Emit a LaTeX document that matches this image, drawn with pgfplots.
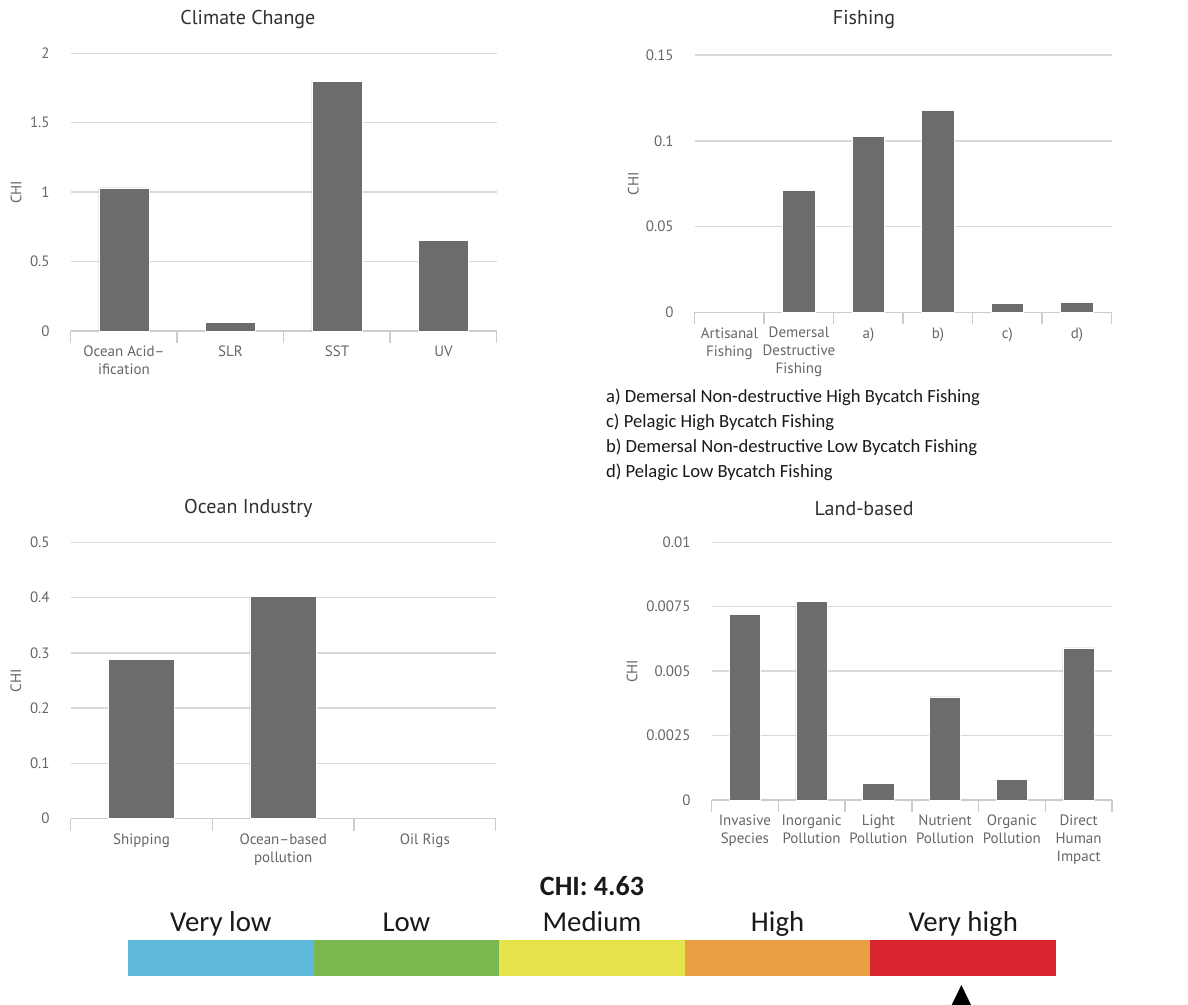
\documentclass[border=0pt]{standalone}
\usepackage{pgfplots}
\pgfplotsset{compat=1.18}
\usepackage{fontspec}
\setmainfont{PT Sans}
\newfontfamily\calib{Carlito}
\definecolor{barc}{HTML}{6B6C6E}
\definecolor{gridc}{HTML}{D9D9D9}
\definecolor{axc}{HTML}{CCCCCC}
\definecolor{tickc}{HTML}{666666}
\definecolor{titc}{HTML}{303030}
\definecolor{cvl}{HTML}{5EB9DA}
\definecolor{clo}{HTML}{7BB84F}
\definecolor{cme}{HTML}{E5E24B}
\definecolor{chi}{HTML}{EA9E43}
\definecolor{cvh}{HTML}{D9252F}
\pgfplotsset{
  chi/.style={
    scale only axis, anchor=south west,
    ybar, bar width=0.47,
    enlargelimits=false, ymin=0,
    scaled y ticks=false,
    axis lines*=left,
    y axis line style={draw=none},
    x axis line style={draw=axc, line width=0.75pt},
    tick align=outside,
    major tick length=0pt,
    minor tick length=6pt,
    tick style={draw=axc, line width=0.75pt},
    ymajorgrids,
    major grid style={draw=gridc, line width=0.75pt},
    xticklabel style={font=\fontsize{7.5}{9}\selectfont, text=tickc, align=center, yshift=-4pt},
    yticklabel style={font=\fontsize{7.5}{9}\selectfont, text=tickc, xshift=-7pt},
    ylabel={CHI},
    every axis y label/.style={rotate=90, anchor=center, font=\fontsize{7.5}{9}\selectfont, text=tickc},
    every axis title/.style={anchor=center, font=\fontsize{10}{12}\selectfont, text=titc},
  }
}
\begin{document}
\begin{tikzpicture}
\path[use as bounding box] (0pt,0pt) rectangle (594pt,-502.5pt);

% Climate Change
\begin{axis}[chi, at={(35.35pt,-165.5pt)}, width=213pt, height=138.85pt,
  xmin=-0.5, xmax=3.5, ymax=2,
  ytick={0,0.5,1,1.5,2}, yticklabels={0,0.5,1,1.5,2},
  xtick={0,1,2,3}, xticklabels={{Ocean Acid\textendash\\ification},SLR,SST,UV},
  minor xtick={-0.5,0.5,1.5,2.5,3.5},
  title={Climate Change}, title style={at={(axis description cs:0.416,1.12)}},
  ylabel style={at={(axis description cs:-0.128,0.5)}}]
\addplot[fill=barc, draw=white, line width=0.4pt] coordinates {(0,1.03) (1,0.06) (2,1.80) (3,0.65)};
\end{axis}

% Fishing
\begin{axis}[chi, at={(347.35pt,-156.15pt)}, width=208.5pt, height=128.65pt,
  xmin=-0.5, xmax=5.5, ymax=0.15,
  ytick={0,0.05,0.1,0.15}, yticklabels={0,0.05,0.1,0.15},
  xtick={0,1,2,3,4,5}, xticklabels={{Artisanal\\Fishing},{Demersal\\Destructive\\Fishing},a),b),c),d)},
  minor xtick={-0.5,0.5,1.5,2.5,3.5,4.5,5.5},
  title={Fishing}, title style={at={(axis description cs:0.406,1.136)}},
  ylabel style={at={(axis description cs:-0.147,0.5)}}]
\addplot[fill=barc, draw=white, line width=0.4pt] coordinates {(1,0.071) (2,0.1025) (3,0.1175) (4,0.0049) (5,0.0056)};
\end{axis}

\node[anchor=west, align=left, inner sep=0pt, font=\calib\fontsize{9.3}{12.5}\selectfont, text=black!90] at (302.85pt,-217.25pt)
  {a) Demersal Non-destructive High Bycatch Fishing\\c) Pelagic High Bycatch Fishing\\b) Demersal Non-destructive Low Bycatch Fishing\\d) Pelagic Low Bycatch Fishing};

% Ocean Industry
\begin{axis}[chi, at={(35.35pt,-409.35pt)}, width=212.5pt, height=138.2pt,
  xmin=-0.5, xmax=2.5, ymax=0.5,
  ytick={0,0.1,0.2,0.3,0.4,0.5}, yticklabels={0,0.1,0.2,0.3,0.4,0.5},
  xtick={0,1,2}, xticklabels={Shipping,{Ocean\textendash based\\pollution},Oil Rigs},
  minor xtick={-0.5,0.5,1.5,2.5},
  title={Ocean Industry}, title style={at={(axis description cs:0.418,1.123)}},
  ylabel style={at={(axis description cs:-0.129,0.5)}}]
\addplot[fill=barc, draw=white, line width=0.4pt] coordinates {(0,0.288) (1,0.402)};
\end{axis}

% Land-based
\begin{axis}[chi, at={(355.75pt,-400pt)}, width=200.25pt, height=128.85pt,
  xmin=-0.5, xmax=5.5, ymax=0.01,
  ytick={0,0.0025,0.005,0.0075,0.01}, yticklabels={0,0.0025,0.005,0.0075,0.01},
  xtick={0,1,2,3,4,5}, xticklabels={{Invasive\\Species},{Inorganic\\Pollution},{Light\\Pollution},{Nutrient\\Pollution},{Organic\\Pollution},{Direct\\Human\\Impact}},
  minor xtick={-0.5,0.5,1.5,2.5,3.5,4.5,5.5},
  title={Land-based}, title style={at={(axis description cs:0.381,1.132)}},
  ylabel style={at={(axis description cs:-0.198,0.5)}}]
\addplot[fill=barc, draw=white, line width=0.4pt] coordinates {(0,0.0072) (1,0.0077) (2,0.00065) (3,0.0040) (4,0.0008) (5,0.0059)};
\end{axis}

% Colour scale
\begin{axis}[at={(64pt,-487.85pt)}, anchor=south west, scale only axis, width=464pt, height=17.85pt,
  xmin=0, xmax=5, ymin=0, ymax=1, hide axis, clip=false, enlargelimits=false]
\addplot[ybar, bar width=1, bar shift=0pt, fill=cvl, draw=none] coordinates {(0.5,1)};
\addplot[ybar, bar width=1, bar shift=0pt, fill=clo, draw=none] coordinates {(1.5,1)};
\addplot[ybar, bar width=1, bar shift=0pt, fill=cme, draw=none] coordinates {(2.5,1)};
\addplot[ybar, bar width=1, bar shift=0pt, fill=chi, draw=none] coordinates {(3.5,1)};
\addplot[ybar, bar width=1, bar shift=0pt, fill=cvh, draw=none] coordinates {(4.5,1)};
\addplot[fill=black, draw=none] coordinates {(4.49,-0.26) (4.545,-0.85) (4.435,-0.85)} -- cycle;
\begin{scope}[every node/.style={font=\calib\fontsize{14.4}{16}\selectfont, text=black!90, anchor=base}]
\node at (axis cs:0.5,1.25) {Very low};
\node at (axis cs:1.5,1.25) {Low};
\node at (axis cs:2.5,1.25) {Medium};
\node at (axis cs:3.5,1.25) {High};
\node at (axis cs:4.5,1.25) {Very high};
\end{scope}
\node[anchor=base, font=\calib\bfseries\fontsize{14}{16}\selectfont, text=black!90] at (axis cs:2.5,2.26) {CHI: 4.63};
\end{axis}
\end{tikzpicture}
\end{document}
